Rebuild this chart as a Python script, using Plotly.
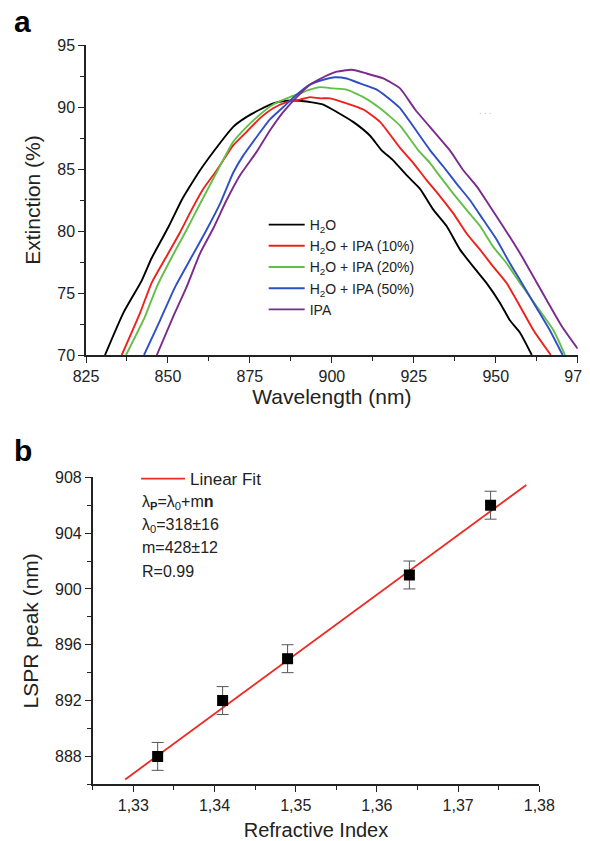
import plotly.graph_objects as go

# ---------------- Panel a data ----------------
h2o_wl = [830.8, 836.4, 842.0, 845.0, 850.1, 854.2, 856.7, 859.8, 865.9, 869.9, 874.0, 878.1, 882.1,
          886.2, 890.3, 893.3, 897.4, 901.5, 906.5, 911.6, 915.2, 918.7, 922.8, 926.9, 931.0, 935.0,
          939.1, 943.2, 947.2, 951.3, 954.3, 957.4, 961.0]
h2o_ext = [70.0, 73.4, 76.0, 77.8, 80.3, 82.5, 83.6, 84.9, 87.1, 88.4, 89.2, 89.8, 90.3,
           90.5, 90.5, 90.4, 90.2, 89.6, 88.8, 87.7, 86.5, 85.7, 84.5, 83.4, 81.7, 80.4,
           78.5, 77.1, 75.8, 74.2, 72.8, 71.8, 70.0]

ipa10_wl = [835.9, 841.5, 845.0, 850.1, 853.7, 857.2, 860.8, 864.9, 869.9, 874.0, 878.1, 882.1, 886.2,
            890.3, 893.3, 896.4, 899.4, 904.5, 909.6, 914.7, 920.8, 924.8, 928.9, 933.0, 937.1, 941.1,
            945.2, 949.3, 953.3, 956.4, 961.5, 966.8]
ipa10_ext = [70.0, 73.4, 75.8, 78.2, 79.9, 81.7, 83.4, 84.9, 86.9, 88.0, 89.1, 89.9, 90.4,
             90.6, 90.8, 90.7, 90.7, 90.3, 89.8, 88.8, 86.7, 85.5, 84.1, 82.8, 81.4, 79.8,
             78.5, 77.1, 75.8, 74.4, 72.0, 70.0]

ipa20_wl = [837.2, 843.0, 846.6, 851.6, 855.7, 859.8, 865.4, 869.9, 874.0, 878.1, 882.1, 886.2, 890.3,
            893.3, 896.4, 900.4, 904.5, 909.6, 914.7, 920.8, 926.4, 929.9, 933.0, 937.1, 941.1, 945.2,
            949.3, 953.3, 957.4, 967.6, 971.1]
ipa20_ext = [70.0, 73.1, 75.5, 78.1, 80.1, 82.2, 85.0, 87.2, 88.4, 89.4, 90.2, 90.7, 91.1,
             91.4, 91.6, 91.5, 91.4, 90.8, 89.9, 88.5, 86.5, 85.5, 84.4, 83.0, 81.7, 80.4,
             78.7, 77.4, 75.8, 72.0, 70.0]

ipa50_wl = [842.7, 847.6, 852.2, 857.2, 861.8, 865.9, 869.9, 873.0, 877.1, 881.1, 885.2, 889.3, 893.3,
            897.4, 901.0, 904.5, 908.6, 913.7, 918.7, 920.8, 930.0, 934.0, 938.1, 942.1, 946.2, 950.3,
            954.3, 957.4, 962.0, 966.5, 970.4]
ipa50_ext = [70.0, 72.8, 75.5, 77.9, 80.1, 82.2, 84.7, 86.1, 87.6, 89.0, 90.0, 91.0, 91.8,
             92.2, 92.4, 92.3, 91.9, 91.4, 90.4, 89.9, 86.5, 85.2, 83.8, 82.5, 80.9, 79.3,
             77.4, 76.05, 74.0, 72.0, 70.0]

ipa_wl = [846.6, 851.6, 855.7, 859.8, 863.8, 867.9, 872.0, 877.1, 881.1, 885.2, 889.3, 893.3, 897.4,
          901.5, 906.1, 910.6, 915.7, 920.8, 925.4, 936.0, 940.1, 944.2, 948.2, 952.3, 957.4,
          965.6, 970.2, 975.0]
ipa_ext = [70.0, 73.1, 75.5, 78.2, 80.2, 82.5, 84.5, 86.4, 88.1, 89.6, 90.8, 91.8, 92.4,
           92.85, 93.0, 92.7, 92.3, 91.5, 89.8, 86.5, 84.9, 83.6, 82.0, 80.35, 78.2,
           74.4, 72.3, 70.5]

series_names = ["H<sub>2</sub>O", "H<sub>2</sub>O + IPA (10%)", "H<sub>2</sub>O + IPA (20%)",
                "H<sub>2</sub>O + IPA (50%)", "IPA"]
series_colors = ["#000000", "#F0201A", "#62BF46", "#2F4FC4", "#7A2B8C"]

# ---------------- Panel b data ----------------
ri = [1.333, 1.341, 1.349, 1.364, 1.374]
lspr = [888, 892, 895, 901, 906]
lspr_err = [1, 1, 1, 1, 1]
fit_x = [1.329, 1.3784]
fit_y = [886.35, 907.45]

a_xticks = [825, 850, 875, 900, 925, 950, 975]
b_xticks = [1.33, 1.34, 1.35, 1.36, 1.37, 1.38]
b_xticklabels = ["1,33", "1,34", "1,35", "1,36", "1,37", "1,38"]
b_yticks = [888, 892, 896, 900, 904, 908]
fit_text = ["λ<sub><b>P</b></sub>=λ<sub>0</sub>+m<b>n</b>", "λ<sub>0</sub>=318±16", "m=428±12", "R=0.99"]

# page body has an 8px margin; size the figure to fit the 590x841 window
OFF = 8
W, H = 590 - OFF, 841 - OFF
FONT = "Arial, Liberation Sans, sans-serif"


def fx(sx):
    """screen x (px) -> paper fraction"""
    return (sx - OFF) / W


def fy(sy):
    """screen y (px, from top) -> paper fraction"""
    return 1 - (sy - OFF) / H


fig = go.Figure()

for wl, ext, name, col in zip([h2o_wl, ipa10_wl, ipa20_wl, ipa50_wl, ipa_wl],
                              [h2o_ext, ipa10_ext, ipa20_ext, ipa50_ext, ipa_ext],
                              series_names, series_colors):
    fig.add_trace(go.Scatter(x=wl, y=ext, mode="lines", name=name,
                             line=dict(color=col, width=1.9, shape="spline", smoothing=0.5),
                             xaxis="x", yaxis="y", legend="legend"))

fig.add_trace(go.Scatter(x=fit_x, y=fit_y, mode="lines", name="Linear Fit",
                         line=dict(color="#EE2A24", width=1.8),
                         xaxis="x2", yaxis="y2", legend="legend2"))
fig.add_trace(go.Scatter(x=ri, y=lspr, mode="markers", showlegend=False,
                         marker=dict(symbol="square", size=11, color="black"),
                         error_y=dict(type="data", array=lspr_err, visible=True,
                                      color="#555555", thickness=1, width=6),
                         xaxis="x2", yaxis="y2"))

axis_common = dict(showline=True, linecolor="#222222", linewidth=1.5, showgrid=False,
                   zeroline=False, ticks="outside", ticklen=6, tickwidth=1.3, tickcolor="#222222",
                   tickfont=dict(family=FONT, size=16, color="#222222"), mirror=False,
                   automargin=False, ticklabeloverflow="allow")

fig.update_layout(
    width=W, height=H,
    margin=dict(l=0, r=0, t=0, b=0),
    paper_bgcolor="white", plot_bgcolor="white",
    font=dict(family=FONT, color="#222222"),
    xaxis=dict(domain=[fx(86), fx(577.7)], range=[825, 975], anchor="y",
               tickvals=a_xticks,
               minor=dict(dtick=12.5, tick0=825, ticks="outside", ticklen=4, tickcolor="#222222"),
               title=dict(text="Wavelength (nm)", font=dict(size=21, family=FONT), standoff=5),
               **axis_common),
    yaxis=dict(domain=[fy(355), fy(45)], range=[70, 95], anchor="x",
               dtick=5, tick0=70,
               minor=dict(dtick=2.5, tick0=70, ticks="outside", ticklen=4, tickcolor="#222222"),
               title=dict(text="Extinction (%)", font=dict(size=21, family=FONT), standoff=11),
               **axis_common),
    xaxis2=dict(domain=[fx(92.7), fx(539.3)], range=[1.325, 1.38], anchor="y2",
                tickvals=b_xticks, ticktext=b_xticklabels,
                minor=dict(dtick=0.005, tick0=1.325, ticks="outside", ticklen=4, tickcolor="#222222"),
                title=dict(text="Refractive Index", font=dict(size=20, family=FONT), standoff=11),
                **axis_common),
    yaxis2=dict(domain=[fy(784.3), fy(477.3)], range=[886, 908], anchor="x2",
                tickvals=b_yticks,
                minor=dict(dtick=2, tick0=886, ticks="outside", ticklen=4, tickcolor="#222222"),
                title=dict(text="LSPR peak (nm)", font=dict(size=21, family=FONT), standoff=11),
                **axis_common),
    legend=dict(x=fx(263.7), y=fy(209), xanchor="left", yanchor="top",
                bgcolor="rgba(0,0,0,0)", borderwidth=0,
                font=dict(family=FONT, size=14, color="#222222"),
                itemwidth=36, tracegroupgap=0, itemclick=False),
    legend2=dict(x=fx(136), y=fy(461), xanchor="left", yanchor="top",
                 bgcolor="rgba(0,0,0,0)", borderwidth=0,
                 font=dict(family=FONT, size=17, color="#222222"),
                 itemwidth=44),
    showlegend=True,
)

annotations = [
    dict(text="<b>a</b>", x=fx(12), y=fy(21), xref="paper", yref="paper",
         xanchor="left", yanchor="middle", showarrow=False,
         font=dict(family=FONT, size=30, color="black")),
    dict(text="<b>b</b>", x=fx(12), y=fy(450), xref="paper", yref="paper",
         xanchor="left", yanchor="middle", showarrow=False,
         font=dict(family=FONT, size=30, color="black")),
    dict(text="· · ·", x=fx(485), y=fy(113), xref="paper", yref="paper",
         xanchor="center", yanchor="middle", showarrow=False,
         font=dict(family=FONT, size=8, color="#999999")),
]
row_y = [502.7, 525.0, 547.7, 571.7]
for t, yy in zip(fit_text, row_y):
    annotations.append(dict(text=t, x=fx(140), y=fy(yy), xref="paper", yref="paper",
                            xanchor="left", yanchor="middle", showarrow=False,
                            font=dict(family=FONT, size=16, color="#222222")))
fig.update_layout(annotations=annotations)

fig.write_html("out.html")
